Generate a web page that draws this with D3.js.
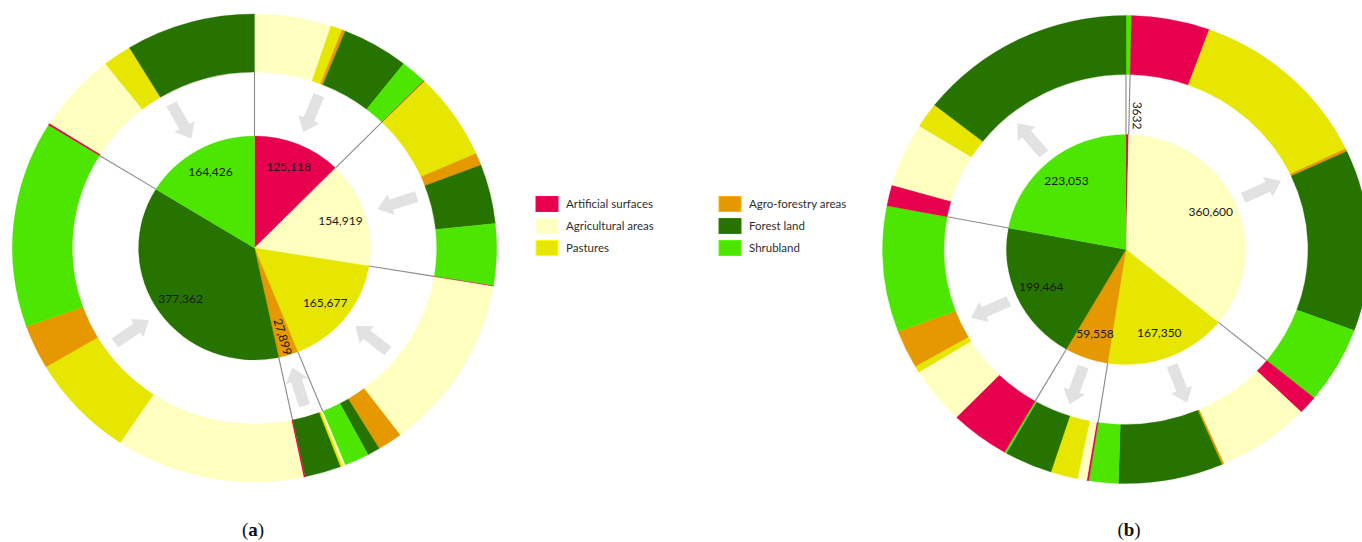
<!DOCTYPE html>
<html>
<head>
<meta charset="utf-8">
<script src="https://cdn.jsdelivr.net/npm/d3@7"></script>
<style>
  body { margin: 0; background: #fff; }
  svg { display: block; }
  .val { font: 12px Lato, "Open Sans", sans-serif; fill: #1a1a1a; }
  .leg { font: 11.5px Lato, "Open Sans", sans-serif; fill: #2e2e2e; }
  .cap { font: 19px "Liberation Serif", serif; fill: #111; }
</style>
</head>
<body>
<svg id="chart" width="1362" height="542"></svg>
<script>
const categories = ["Artificial surfaces", "Agricultural areas", "Pastures",
  "Agro-forestry areas", "Forest land", "Shrubland"]

// (a) inner pie, hectares per class
const pieA = [125118, 154919, 165677, 27899, 377362, 164426]
const labelsA = ["125,118", "154,919", "165,677", "27,899", "377,362", "164,426"]
// (a) outer ring: for each pie class, the classes it came from (same order as categories)
const ringA = [
  [0, 51900, 7900, 2300, 45100, 17900],
  [560, 0, 60900, 8700, 41500, 43200],
  [560, 122700, 0, 16900, 8500, 16900],
  [0, 1700, 1700, 0, 24500, 0],
  [1100, 128100, 72500, 31000, 0, 144700],
  [1400, 55800, 19500, 0, 87700, 0]
]

// (b) inner pie
const pieB = [3632, 360600, 167350, 59558, 199464, 223053]
const labelsB = ["3632", "360,600", "167,350", "59,558", "199,464", "223,053"]
// (b) outer ring: for each pie class, the classes it went to
const ringB = [
  [0, 0, 0, 0, 0, 3632],
  [52700, 0, 125300, 2000, 127000, 53800],
  [13000, 62800, 0, 1400, 70400, 19700],
  [1400, 6200, 18300, 0, 32400, 1400],
  [40000, 40000, 4500, 26700, 0, 88100],
  [14600, 44800, 17500, 0, 146100, 0]
]

const color = d3.scaleOrdinal()
  .domain(categories)
  .range(["#e6004d", "#ffffc0", "#e6e600", "#e69800", "#267300", "#4ce600"])

const svg = d3.select("#chart")

const drawDonut = (cfg) => {
  const { cx, cy, sx, pieR, ringIn, ringOut, values, ring, labels, inward } = cfg
  const slices = d3.pie().sort(null).value(d => d)(values)
    .map((s, i) => Object.assign(s, { cat: categories[i], i: i }))

  const g = svg.append("g").attr("transform", `translate(${cx},${cy}) scale(${sx},1)`)

  // outer ring segments, subdividing each pie slice's angle
  const ringArc = d3.arc().innerRadius(ringIn).outerRadius(ringOut)
  const segs = []
  slices.forEach((s, i) => {
    const parts = ring[i]
    const total = d3.sum(parts)
    const ang = d3.scaleLinear().domain([0, total]).range([s.startAngle, s.endAngle])
    let acc = 0
    parts.forEach((v, j) => {
      if (v > 0) segs.push({ startAngle: ang(acc), endAngle: ang(acc + v), cat: categories[j] })
      acc += v
    })
  })
  g.selectAll(".seg").data(segs).enter()
    .append("path")
      .attr("class", "seg")
      .attr("d", ringArc)
      .attr("fill", d => color(d.cat))
      .attr("stroke", d => color(d.cat))
      .attr("stroke-width", 0.3)

  // inner pie
  const pieArc = d3.arc().innerRadius(0).outerRadius(pieR)
  g.selectAll(".slice").data(slices).enter()
    .append("path")
      .attr("class", "slice")
      .attr("d", pieArc)
      .attr("fill", d => color(d.cat))
      .attr("stroke", d => color(d.cat))
      .attr("stroke-width", 0.3)

  // gray connector lines at slice boundaries
  g.selectAll(".sep").data(slices).enter()
    .append("line")
      .attr("class", "sep")
      .attr("x1", d => pieR * Math.sin(d.startAngle))
      .attr("y1", d => -pieR * Math.cos(d.startAngle))
      .attr("x2", d => ringIn * Math.sin(d.startAngle))
      .attr("y2", d => -ringIn * Math.cos(d.startAngle))
      .attr("stroke", "#8c8c8c")
      .attr("stroke-width", 1.1)

  // block arrows in the gap
  const mid = (ringIn + pieR) / 2
  const arrow = "M-5.5,-21 L5.5,-21 L5.5,5 L11,5 L0,19 L-11,5 L-5.5,5 Z"
  g.selectAll(".arrow").data(slices.filter(s => s.endAngle - s.startAngle > 0.1)).enter()
    .append("path")
      .attr("class", "arrow")
      .attr("d", arrow)
      .attr("fill", "#e2e2e2")
      .attr("transform", d => {
        const a = (d.startAngle + d.endAngle) / 2 * 180 / Math.PI
        return `rotate(${a}) translate(0,${-mid}) rotate(${inward ? 0 : 180})`
      })

  // value labels (unscaled so text is not stretched)
  const lg = svg.append("g").attr("transform", `translate(${cx},${cy})`)
  slices.forEach((s, i) => {
    const span = s.endAngle - s.startAngle
    const a = (s.startAngle + s.endAngle) / 2
    let r = pieR * 0.78
    let rot = 0
    let side = 0
    if (span < 0.05) { r = pieR + 19; side = 9 }
    else if (span < 0.2) r = pieR * 0.83
    if (span < 0.2) {
      rot = a * 180 / Math.PI - 90
      if (Math.sin(rot * Math.PI / 180) < 0) rot += 180
    }
    const x = (r * Math.sin(a) + side * Math.cos(a)) * sx
    const y = -r * Math.cos(a) + side * Math.sin(a)
    lg.append("text")
      .attr("class", "val")
      .attr("text-anchor", "middle")
      .attr("dy", "0.35em")
      .attr("transform", `translate(${x},${y}) rotate(${rot})`)
      .text(labels[i])
  })
}

drawDonut({ cx: 254.5, cy: 248, sx: 1.035, pieR: 112, ringIn: 176, ringOut: 234,
  values: pieA, ring: ringA, labels: labelsA, inward: true })
drawDonut({ cx: 1126, cy: 249.5, sx: 1.04, pieR: 115, ringIn: 175, ringOut: 234,
  values: pieB, ring: ringB, labels: labelsB, inward: false })

// legend
const legend = svg.append("g")
categories.forEach((c, i) => {
  const col = Math.floor(i / 3)
  const row = i % 3
  const x = 536 + col * 183
  const y = 204 + row * 22
  legend.append("rect")
    .attr("x", x).attr("y", y - 7.5)
    .attr("width", 22).attr("height", 15)
    .attr("fill", color(c))
    .attr("stroke", d3.color(color(c)).brighter(0.4))
    .attr("stroke-width", 1)
  legend.append("text")
    .attr("class", "leg")
    .attr("x", x + 30).attr("y", y)
    .attr("dy", "0.35em")
    .text(c)
})

// captions
const captions = [["a", 253], ["b", 1129]]
captions.forEach(([t, x]) => {
  const txt = svg.append("text").attr("class", "cap").attr("x", x).attr("y", 536)
    .attr("text-anchor", "middle")
  txt.append("tspan").text("(")
  txt.append("tspan").attr("font-weight", "bold").text(t)
  txt.append("tspan").text(")")
})
</script>
</body>
</html>
